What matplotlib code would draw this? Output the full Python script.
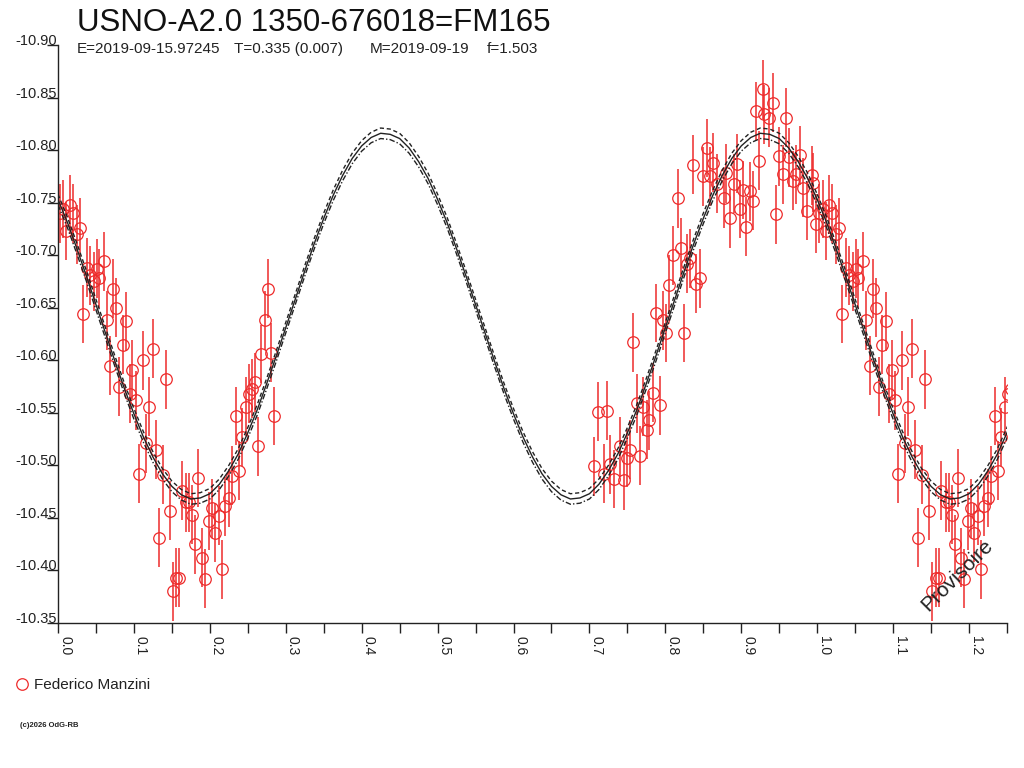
import matplotlib
matplotlib.use("Agg")
import matplotlib.pyplot as plt
from matplotlib.lines import Line2D
from matplotlib.ticker import MultipleLocator, FuncFormatter

plt.rcParams['font.family'] = ['Liberation Sans', 'DejaVu Sans']
plt.rcParams['axes.unicode_minus'] = False

# ---------------- data ----------------
title = "USNO-A2.0 1350-676018=FM165"
subtitle_parts = ["E=2019-09-15.97245", "T=0.335 (0.007)", "M=2019-09-19", "f=1.503"]
observer = "Federico Manzini"
copyright_txt = "(c)2026 OdG-RB"
watermark = "Provisoire"

# observed phases / magnitudes (phase in 0..1)
phase = [0.003, 0.007, 0.011, 0.016, 0.020, 0.025, 0.029, 0.033, 0.038, 0.042,
         0.047, 0.051, 0.054, 0.060, 0.064, 0.069, 0.073, 0.077, 0.081, 0.086,
         0.090, 0.095, 0.098, 0.103, 0.107, 0.112, 0.116, 0.120, 0.125, 0.129,
         0.133, 0.138, 0.142, 0.147, 0.151, 0.156, 0.160, 0.163, 0.169, 0.173,
         0.177, 0.181, 0.185, 0.190, 0.194, 0.199, 0.203, 0.207, 0.212, 0.216,
         0.220, 0.225, 0.229, 0.234, 0.238, 0.242, 0.247, 0.251, 0.255, 0.259,
         0.264, 0.267, 0.272, 0.276, 0.281, 0.285,
         0.706, 0.711, 0.719, 0.723, 0.727, 0.732, 0.740, 0.745, 0.749, 0.754,
         0.758, 0.762, 0.767, 0.771, 0.776, 0.779, 0.784, 0.788, 0.793, 0.797,
         0.801, 0.805, 0.810, 0.816, 0.820, 0.825, 0.828, 0.832, 0.837, 0.841,
         0.846, 0.850, 0.855, 0.859, 0.863, 0.868, 0.877, 0.880, 0.885, 0.890,
         0.894, 0.898, 0.902, 0.906, 0.911, 0.915, 0.920, 0.923, 0.928, 0.930,
         0.937, 0.942, 0.946, 0.950, 0.955, 0.959, 0.963, 0.968, 0.972, 0.977,
         0.981, 0.986, 0.993, 0.995, 0.999]
mag = [-10.740, -10.744, -10.723, -10.748, -10.740, -10.720, -10.726, -10.644, -10.688, -10.681,
       -10.675, -10.687, -10.678, -10.694, -10.638, -10.595, -10.668, -10.650, -10.575, -10.615,
       -10.637, -10.568, -10.591, -10.562, -10.492, -10.600, -10.521, -10.556, -10.611, -10.515,
       -10.431, -10.491, -10.582, -10.457, -10.380, -10.393, -10.393, -10.476, -10.465, -10.465,
       -10.453, -10.425, -10.488, -10.412, -10.392, -10.447, -10.459, -10.436, -10.452, -10.401,
       -10.461, -10.469, -10.490, -10.547, -10.495, -10.527, -10.556, -10.568, -10.573, -10.579,
       -10.518, -10.606, -10.638, -10.668, -10.607, -10.547,
       -10.499, -10.551, -10.492, -10.552, -10.501, -10.487, -10.518, -10.486, -10.507, -10.515,
       -10.617, -10.559, -10.509, -10.556, -10.534, -10.543, -10.569, -10.645, -10.557, -10.638,
       -10.626, -10.672, -10.700, -10.754, -10.707, -10.626, -10.692, -10.697, -10.786, -10.673,
       -10.678, -10.775, -10.802, -10.775, -10.788, -10.768, -10.754, -10.778, -10.735, -10.768,
       -10.787, -10.744, -10.762, -10.727, -10.761, -10.752, -10.837, -10.790, -10.858, -10.834,
       -10.831, -10.845, -10.739, -10.794, -10.777, -10.831, -10.793, -10.771, -10.777, -10.795,
       -10.764, -10.742, -10.776, -10.769, -10.730]
mag_err = [0.028, 0.028, 0.028, 0.028, 0.028, 0.028, 0.028, 0.028, 0.028, 0.028,
           0.028, 0.028, 0.028, 0.028, 0.028, 0.028, 0.028, 0.028, 0.028, 0.028,
           0.028, 0.028, 0.028, 0.028, 0.028, 0.028, 0.028, 0.028, 0.028, 0.028,
           0.028, 0.028, 0.028, 0.028, 0.028, 0.028, 0.028, 0.028, 0.028, 0.028,
           0.028, 0.028, 0.028, 0.028, 0.028, 0.028, 0.028, 0.028, 0.028, 0.028,
           0.028, 0.028, 0.028, 0.028, 0.028, 0.028, 0.028, 0.028, 0.028, 0.028,
           0.028, 0.028, 0.028, 0.028, 0.028, 0.028,
           0.028, 0.028, 0.028, 0.028, 0.028, 0.028, 0.028, 0.028, 0.028, 0.028,
           0.028, 0.028, 0.028, 0.028, 0.028, 0.028, 0.028, 0.028, 0.028, 0.028,
           0.028, 0.028, 0.028, 0.028, 0.028, 0.028, 0.028, 0.028, 0.028, 0.028,
           0.028, 0.028, 0.028, 0.028, 0.028, 0.028, 0.028, 0.028, 0.028, 0.028,
           0.028, 0.028, 0.028, 0.028, 0.028, 0.028, 0.028, 0.028, 0.028, 0.028,
           0.028, 0.028, 0.028, 0.028, 0.028, 0.028, 0.028, 0.028, 0.028, 0.028,
           0.028, 0.028, 0.028, 0.028, 0.028]

# fitted light curve over one rotation and its two bounds
curve_phase = [0.0000, 0.0125, 0.0250, 0.0375, 0.0500, 0.0625, 0.0750, 0.0875, 0.1000, 0.1125,
               0.1250, 0.1375, 0.1500, 0.1625, 0.1750, 0.1875, 0.2000, 0.2125, 0.2250, 0.2375,
               0.2500, 0.2625, 0.2750, 0.2875, 0.3000, 0.3125, 0.3250, 0.3375, 0.3500, 0.3625,
               0.3750, 0.3875, 0.4000, 0.4125, 0.4250, 0.4375, 0.4500, 0.4625, 0.4750, 0.4875,
               0.5000, 0.5125, 0.5250, 0.5375, 0.5500, 0.5625, 0.5750, 0.5875, 0.6000, 0.6125,
               0.6250, 0.6375, 0.6500, 0.6625, 0.6750, 0.6875, 0.7000, 0.7125, 0.7250, 0.7375,
               0.7500, 0.7625, 0.7750, 0.7875, 0.8000, 0.8125, 0.8250, 0.8375, 0.8500, 0.8625,
               0.8750, 0.8875, 0.9000, 0.9125, 0.9250, 0.9375, 0.9500, 0.9625, 0.9750, 0.9875,
               1.0000]
curve_mid = [-10.753, -10.731, -10.706, -10.680, -10.653, -10.626, -10.599, -10.573, -10.549, -10.527,
             -10.508, -10.492, -10.480, -10.472, -10.468, -10.469, -10.473, -10.482, -10.495, -10.511,
             -10.531, -10.553, -10.578, -10.604, -10.631, -10.658, -10.685, -10.711, -10.735, -10.757,
             -10.776, -10.792, -10.804, -10.812, -10.816, -10.815, -10.811, -10.802, -10.789, -10.773,
             -10.753, -10.731, -10.706, -10.680, -10.653, -10.626, -10.599, -10.573, -10.549, -10.527,
             -10.508, -10.492, -10.480, -10.472, -10.468, -10.469, -10.473, -10.482, -10.495, -10.511,
             -10.531, -10.553, -10.578, -10.604, -10.631, -10.658, -10.685, -10.711, -10.735, -10.757,
             -10.776, -10.792, -10.804, -10.812, -10.816, -10.815, -10.811, -10.802, -10.789, -10.773,
             -10.753]
curve_hi = [-10.758, -10.736, -10.711, -10.685, -10.658, -10.631, -10.604, -10.578, -10.554, -10.532,
            -10.513, -10.497, -10.485, -10.477, -10.473, -10.474, -10.478, -10.487, -10.500, -10.516,
            -10.536, -10.558, -10.583, -10.609, -10.636, -10.663, -10.690, -10.716, -10.740, -10.762,
            -10.781, -10.797, -10.809, -10.817, -10.821, -10.820, -10.816, -10.807, -10.794, -10.778,
            -10.758, -10.736, -10.711, -10.685, -10.658, -10.631, -10.604, -10.578, -10.554, -10.532,
            -10.513, -10.497, -10.485, -10.477, -10.473, -10.474, -10.478, -10.487, -10.500, -10.516,
            -10.536, -10.558, -10.583, -10.609, -10.636, -10.663, -10.690, -10.716, -10.740, -10.762,
            -10.781, -10.797, -10.809, -10.817, -10.821, -10.820, -10.816, -10.807, -10.794, -10.778,
            -10.758]
curve_lo = [-10.748, -10.726, -10.701, -10.675, -10.648, -10.621, -10.594, -10.568, -10.544, -10.522,
            -10.503, -10.487, -10.475, -10.467, -10.463, -10.464, -10.468, -10.477, -10.490, -10.506,
            -10.526, -10.548, -10.573, -10.599, -10.626, -10.653, -10.680, -10.706, -10.730, -10.752,
            -10.771, -10.787, -10.799, -10.807, -10.811, -10.810, -10.806, -10.797, -10.784, -10.768,
            -10.748, -10.726, -10.701, -10.675, -10.648, -10.621, -10.594, -10.568, -10.544, -10.522,
            -10.503, -10.487, -10.475, -10.467, -10.463, -10.464, -10.468, -10.477, -10.490, -10.506,
            -10.526, -10.548, -10.573, -10.599, -10.626, -10.653, -10.680, -10.706, -10.730, -10.752,
            -10.771, -10.787, -10.799, -10.807, -10.811, -10.810, -10.806, -10.797, -10.784, -10.768,
            -10.748]

# ---------------- figure ----------------
W, H = 1024, 768
fig = plt.figure(figsize=(W / 100, H / 100), dpi=100)
ax_l, ax_r, ax_t, ax_b = 58, 1007, 45, 623
ax = fig.add_axes([ax_l / W, 1 - ax_b / H, (ax_r - ax_l) / W, (ax_b - ax_t) / H])

red = '#ee2b2b'
ink = '#222222'
# data and curves drawn at phase and at phase+1 (the axis clips the rest)
for shift in (0.0, 1.0):
    ax.errorbar([p + shift for p in phase], mag, yerr=mag_err, fmt='o',
                ms=8.3, mfc='none', mec=red, mew=0.9, ecolor=red,
                elinewidth=1.1, capsize=0, zorder=2)
for shift in (0.0, 1.0):
    xs = [p + shift for p in curve_phase]
    ax.plot(xs, curve_hi, color=ink, lw=1.0, ls=(0, (3, 2)), zorder=3)
    ax.plot(xs, curve_lo, color=ink, lw=1.0, ls=(0, (4, 1.5, 1, 1.5)), zorder=3)
    ax.plot(xs, curve_mid, color=ink, lw=1.0, ls='-', zorder=3)

ax.set_xlim(0.0, 1.25)
ax.set_ylim(-10.35, -10.90)

for s in ('top', 'right'):
    ax.spines[s].set_visible(False)
for s in ('left', 'bottom'):
    ax.spines[s].set_color(ink)
    ax.spines[s].set_linewidth(1.0)

ax.xaxis.set_major_locator(MultipleLocator(0.05))
ax.xaxis.set_major_formatter(FuncFormatter(
    lambda v, pos: ("%.1f" % v) if abs(v * 10 - round(v * 10)) < 1e-6 else ""))
ax.yaxis.set_major_locator(MultipleLocator(0.05))
ax.yaxis.set_major_formatter(FuncFormatter(lambda v, pos: "%.2f" % v))

ax.tick_params(axis='x', direction='out', length=7, width=1.0, color=ink,
               labelsize=10, labelcolor=ink, pad=2)
ax.tick_params(axis='y', direction='out', length=8, width=1.0, color=ink,
               labelsize=10.5, labelcolor=ink, pad=-7)
for lab in ax.get_xticklabels():
    lab.set_rotation(-90)
    lab.set_ha('left')
    lab.set_va('top')
for lab in ax.get_yticklabels():
    lab.set_va('baseline')

# titles
fig.text(77 / W, 1 - 31 / H, title, fontsize=22.5, color='#111111', ha='left', va='baseline')
sub_x = [77, 234, 370, 487]
for txt, x in zip(subtitle_parts, sub_x):
    fig.text(x / W, 1 - 53 / H, txt, fontsize=11, color=ink, ha='left', va='baseline')

# legend (observer)
fig.add_artist(Line2D([22 / W], [1 - 684 / H], transform=fig.transFigure, marker='o',
                      ms=8.3, mfc='none', mec=red, mew=0.9, ls='none'))
fig.text(34 / W, 1 - 689 / H, observer, fontsize=11, color=ink, ha='left', va='baseline')

fig.text(20 / W, 1 - 727 / H, copyright_txt, fontsize=5.5, color=ink, ha='left',
         va='baseline', fontweight='bold')

# watermark
ax.text(0.948, 0.083, watermark, transform=ax.transAxes, rotation=45, fontsize=15,
        color=ink, ha='center', va='center', rotation_mode='anchor')

fig.savefig("out.png", dpi=100, facecolor='white')
